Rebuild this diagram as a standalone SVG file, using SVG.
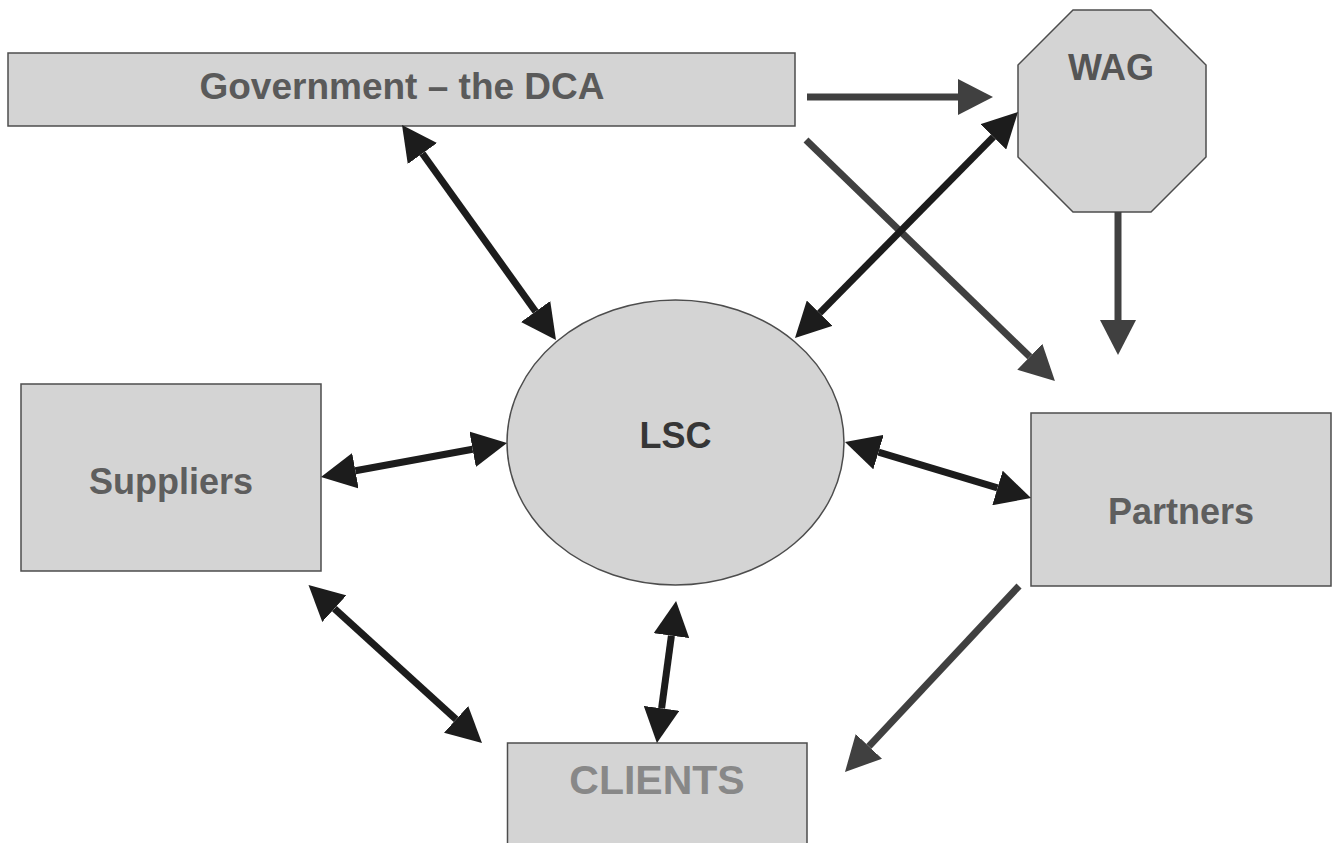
<svg xmlns="http://www.w3.org/2000/svg" width="1332" height="843" viewBox="0 0 1332 843">
  <style>
    .node { fill: #d4d4d4; stroke: #4d4d4d; stroke-width: 1.5; }
    .label { font-family: "Liberation Sans", Arial, sans-serif; font-weight: bold; text-anchor: middle; }
    .two-way { stroke: #1c1c1c; stroke-width: 7; fill: none; marker-start: url(#headDark); marker-end: url(#headDark); }
    .one-way { stroke: #404040; stroke-width: 7; fill: none; marker-end: url(#headGrey); }
  </style>
  <defs>
    <marker id="headDark" viewBox="0 0 35 36" markerUnits="userSpaceOnUse" markerWidth="35" markerHeight="36" refX="0" refY="18" orient="auto-start-reverse">
      <path d="M0,0 L35,18 L0,36 z" fill="#1c1c1c"/>
    </marker>
    <marker id="headGrey" viewBox="0 0 35 36" markerUnits="userSpaceOnUse" markerWidth="35" markerHeight="36" refX="0" refY="18" orient="auto">
      <path d="M0,0 L35,18 L0,36 z" fill="#404040"/>
    </marker>
  </defs>

  <rect width="1332" height="843" fill="#ffffff"/>

  <!-- nodes -->
  <g id="government">
    <rect class="node" x="8" y="53" width="787" height="73"/>
    <text class="label" x="402" y="99" font-size="37" fill="#5a5a5a">Government – the DCA</text>
  </g>
  <g id="wag">
    <polygon class="node" points="1073,10 1151,10 1206,65 1206,157 1151,212 1073,212 1018,157 1018,65"/>
    <text class="label" x="1111" y="80" font-size="36" fill="#555555">WAG</text>
  </g>
  <g id="lsc">
    <ellipse class="node" cx="675.5" cy="442.5" rx="168.5" ry="142.5"/>
    <text class="label" x="675.5" y="448" font-size="36" fill="#363636">LSC</text>
  </g>
  <g id="suppliers">
    <rect class="node" x="21" y="384" width="300" height="187"/>
    <text class="label" x="171" y="494" font-size="36" fill="#5e5e5e">Suppliers</text>
  </g>
  <g id="partners">
    <rect class="node" x="1031" y="413" width="300" height="173"/>
    <text class="label" x="1181" y="524" font-size="36" fill="#5e5e5e">Partners</text>
  </g>
  <g id="clients">
    <rect class="node" x="507.5" y="743" width="299.5" height="110"/>
    <text class="label" x="657" y="794" font-size="41" fill="#888888">CLIENTS</text>
  </g>

  <!-- connectors -->
  <g id="connectors">
    <line class="one-way" x1="807" y1="97" x2="958" y2="97"/>
    <line class="one-way" x1="806" y1="140" x2="1029.8" y2="356.7"/>
    <line class="one-way" x1="1118" y1="212" x2="1118" y2="320"/>
    <line class="one-way" x1="1019" y1="586" x2="868.9" y2="746.4"/>
    <line class="two-way" x1="422.4" y1="153.5" x2="535.6" y2="311.5"/>
    <line class="two-way" x1="993.4" y1="136.9" x2="819.6" y2="313.1"/>
    <line class="two-way" x1="355.4" y1="470.7" x2="472.6" y2="449.3"/>
    <line class="two-way" x1="878.5" y1="452.1" x2="997.5" y2="487.9"/>
    <line class="two-way" x1="334.4" y1="608.6" x2="456.1" y2="719.4"/>
    <line class="two-way" x1="671.4" y1="635.7" x2="661.6" y2="708.3"/>
  </g>
</svg>
